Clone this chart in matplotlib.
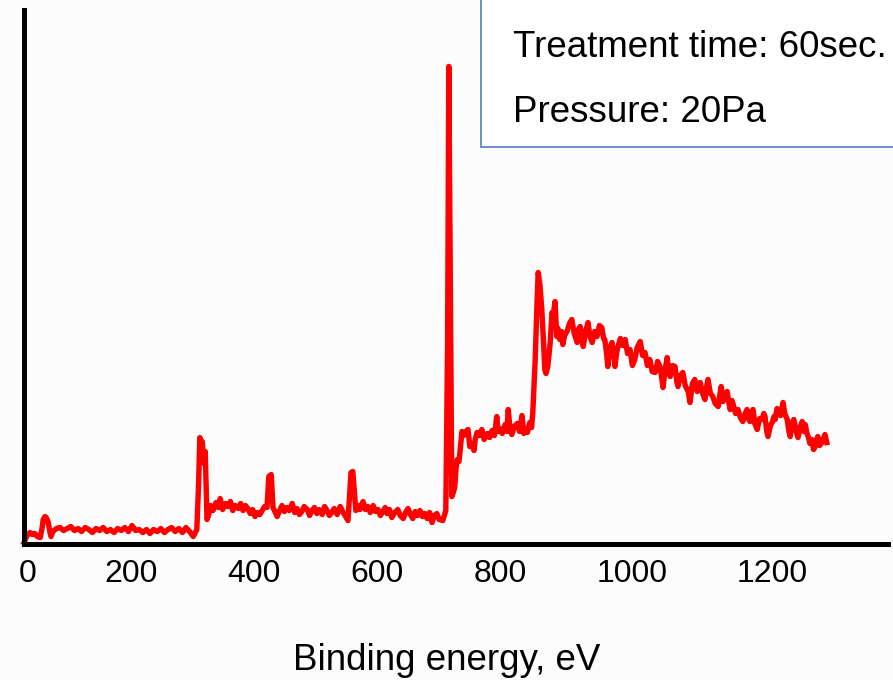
import matplotlib
matplotlib.use('Agg')
import matplotlib.pyplot as plt
from matplotlib.patches import Rectangle

plt.rcParams['font.family'] = ['Liberation Sans', 'DejaVu Sans']

# XPS survey spectrum (binding energy, intensity in a.u.)
energy = [0, 5, 10, 14, 18, 22, 27, 30, 32, 35, 37, 40, 43, 45,
          48, 54, 60, 66, 72, 78, 84, 90, 96, 102, 108, 114, 120, 126, 132, 138,
          144, 150, 156, 162, 168, 174, 180, 186, 192, 198, 204, 210, 216, 222,
          228, 234, 240, 246, 252, 258, 264, 270, 276, 282, 288,
          291, 293, 295, 297, 299, 300, 302, 303, 305,
          307, 311, 315, 320, 324, 327, 331, 336, 340, 344, 348, 352, 357, 361,
          365, 369, 373, 377, 381, 385, 389, 393, 397, 401, 405, 408, 412, 415,
          419, 422, 426, 430, 434, 438, 442, 447, 451, 455, 459, 463, 467, 472,
          476, 480, 484, 488, 492, 497, 501, 505, 509, 513, 517, 522, 527, 532,
          536, 540, 545, 548, 553, 557, 560, 565, 569, 573, 577, 582, 586, 590,
          594, 598, 602, 605, 609, 613, 618, 623, 627, 632, 636, 640, 644, 648,
          652, 656, 660, 664, 668, 672, 676, 680, 684, 688, 692, 698, 703,
          706, 708, 710, 713, 716, 718, 720, 722, 725, 728, 730, 733, 735, 738, 740,
          743, 746, 750, 752, 755, 759, 763, 767, 772, 776, 780, 784, 788, 790,
          793, 797, 802, 805, 807, 810, 813, 817, 822, 826, 830, 833, 835, 839,
          843, 846, 848, 852, 855, 857, 860, 863, 866, 868, 870, 873, 877, 880,
          882, 885, 888, 890, 893, 896, 898, 901, 905, 909, 913, 917, 922, 924,
          927, 930, 932, 936, 940, 943, 947, 951, 955, 959, 963, 966, 968, 971,
          973, 976, 980, 983, 985, 988, 990, 994, 998, 1002, 1006, 1010, 1014,
          1018, 1022, 1027, 1031, 1035, 1039, 1043, 1047, 1052, 1056, 1060, 1063,
          1065, 1068, 1072, 1075, 1077, 1081, 1085, 1088, 1090, 1094, 1098, 1102,
          1107, 1110, 1114, 1118, 1122, 1127, 1131, 1135, 1138, 1140, 1144, 1148,
          1152, 1157, 1160, 1162, 1165, 1168, 1172, 1175, 1177, 1180, 1182, 1186,
          1190, 1194, 1198, 1202, 1205, 1208, 1210, 1213, 1215, 1218, 1222, 1226,
          1230, 1233, 1235, 1238, 1240, 1244, 1247, 1250, 1252, 1255, 1257, 1261,
          1265, 1268, 1272, 1275, 1277, 1280, 1283, 1287, 1290, 1294, 1297, 1300,
          1302, 1305, 1307, 1310, 1313, 1316, 1318, 1321, 1323, 1326, 1330, 1333,
          1335, 1338]
intensity = [1, 8, 11, 9, 10, 7, 6, 15, 24, 27, 26, 22, 12, 7,
             12, 15, 16, 13, 15, 17, 13, 15, 12, 16, 14, 11, 15, 13, 16, 12,
             14, 11, 15, 13, 16, 12, 18, 13, 14, 11, 14, 10, 14, 12,
             15, 11, 14, 16, 12, 15, 11, 16, 12, 7, 14,
             60, 106, 103, 102, 86, 80, 92, 70, 24,
             27, 38, 33, 41, 36, 45, 34, 40, 37, 42, 33, 38, 35, 40,
             33, 38, 35, 30, 34, 27, 31, 29, 33, 37, 36, 67, 69, 36,
             31, 27, 33, 38, 32, 36, 33, 40, 31, 35, 29, 32, 37, 34,
             28, 33, 36, 30, 34, 29, 37, 33, 28, 31, 35, 29, 37, 31,
             27, 23, 71, 72, 33, 38, 34, 42, 34, 37, 31, 38, 32, 34,
             28, 32, 36, 30, 34, 26, 31, 34, 28, 25, 31, 35, 29, 25,
             32, 28, 33, 27, 30, 25, 31, 21, 28, 30, 24, 23, 33,
             200, 477, 300, 47, 52, 57, 75, 84, 82, 100, 112, 108, 111, 113, 114,
             97, 100, 93, 104, 111, 108, 114, 104, 110, 106, 113, 108, 127, 112,
             115, 110, 119, 112, 134, 115, 109, 117, 120, 112, 128, 110, 115, 111,
             121, 116, 131, 184, 240, 271, 258, 234, 200, 174, 170, 177, 201, 231,
             228, 242, 207, 215, 204, 212, 199, 208, 212, 220, 224, 210, 201, 214,
             217, 205, 197, 212, 221, 208, 201, 212, 207, 218, 216, 205, 204, 190,
             177, 195, 201, 188, 177, 192, 197, 205, 198, 204, 190, 194, 178,
             184, 196, 202, 188, 191, 178, 184, 172, 171, 182, 177, 165,
             156, 172, 186, 170, 167, 178, 177, 162, 157, 168, 171, 158,
             152, 141, 160, 164, 152, 161, 150, 144, 158, 164, 150, 147,
             140, 137, 150, 157, 142, 148, 152, 140, 134, 143, 139, 130,
             134, 126, 122, 130, 134, 124, 122, 131, 134, 120, 114, 125,
             124, 130, 127, 112, 107, 118, 121, 127, 124, 135, 132, 128,
             141, 130, 124, 112, 107, 120, 124, 112, 106, 117, 122, 112,
             119, 110, 107, 100, 104, 94, 96, 104, 107, 98, 101, 106,
             109, 101]

tick_pos = [6, 179, 383, 588, 793, 1013, 1247]
tick_labels = ['0', '200', '400', '600', '800', '1000', '1200']
info_lines = ['Treatment time: 60sec.', 'Pressure: 20Pa']

fig = plt.figure(figsize=(8.93, 6.80), dpi=100, facecolor='#fcfcfc')
ax = fig.add_axes([0.0269, 0.2007, 0.9675, 0.7846])
ax.set_facecolor('#fcfcfc')

ax.plot(energy, intensity, color='#ff0000', lw=3.9, solid_joinstyle='round', clip_on=False)

ax.set_xlim(0, 1440)
ax.set_ylim(0, 533.5)
for side in ['top', 'right']:
    ax.spines[side].set_visible(False)
for side in ['left', 'bottom']:
    ax.spines[side].set_linewidth(3.6)
    ax.spines[side].set_color('black')

ax.set_xticks(tick_pos)
ax.set_xticklabels(tick_labels)
ax.set_yticks([])
ax.tick_params(axis='x', length=0, pad=11, labelsize=23)

fig.text(447 / 893, 10 / 680, 'Binding energy, eV', ha='center', va='baseline', fontsize=26.5)

# info box, cut by the top right corner of the picture
box = Rectangle((481 / 893, (680 - 147) / 680), 0.6, 0.5, transform=fig.transFigure,
                facecolor='white', edgecolor='#4f81bd', lw=1.2, zorder=5)
fig.patches.append(box)
fig.text(513 / 893, (680 - 57) / 680, info_lines[0], va='baseline', fontsize=26.5, zorder=6)
fig.text(513 / 893, (680 - 122) / 680, info_lines[1], va='baseline', fontsize=26.5, zorder=6)

fig.savefig('out.png', dpi=100, facecolor=fig.get_facecolor())
